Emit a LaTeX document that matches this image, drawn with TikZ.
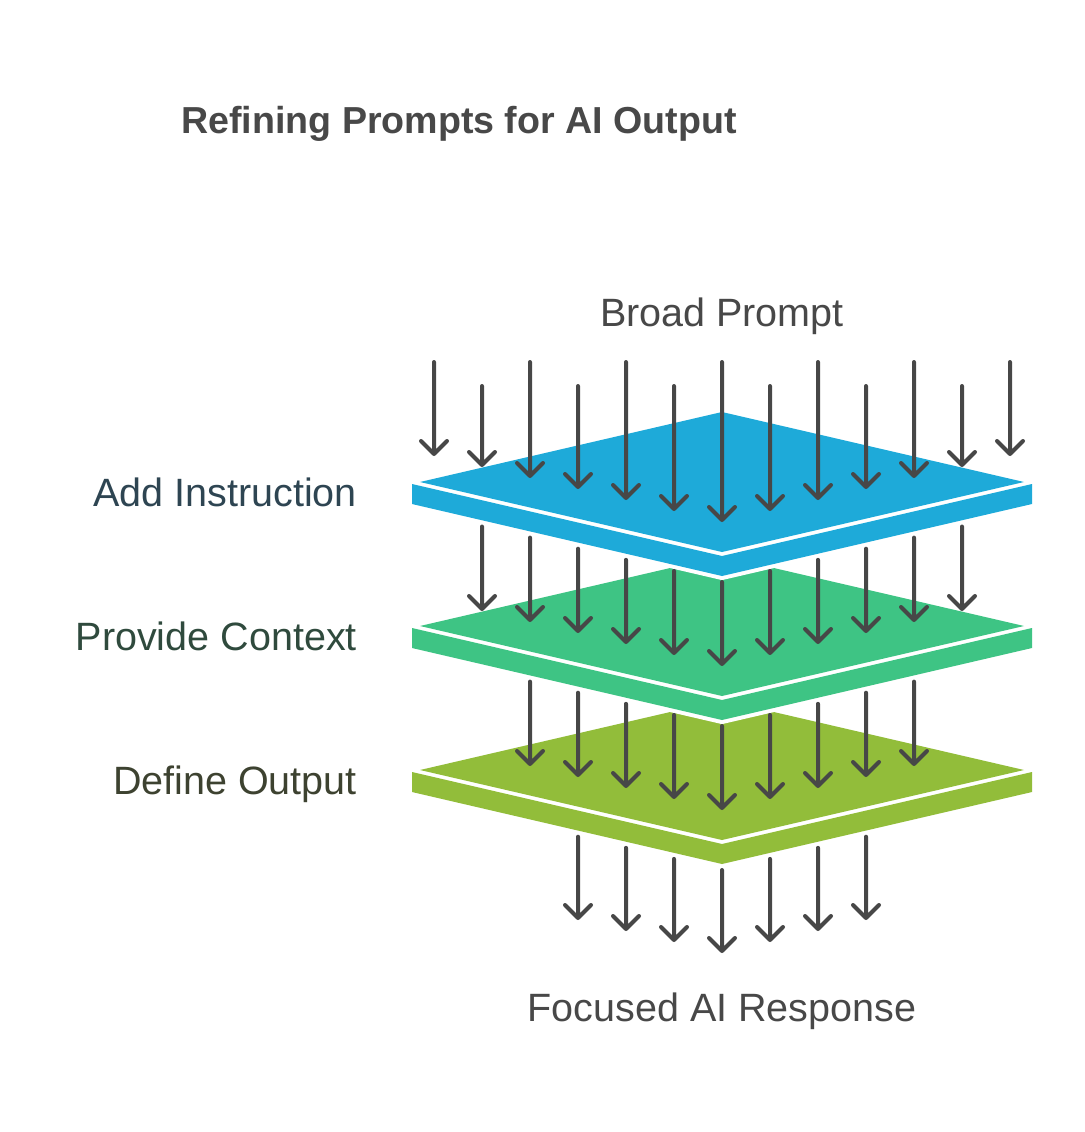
\documentclass[tikz,border=0pt]{standalone}
\usepackage{fontspec}
\setmainfont{Liberation Sans}
\definecolor{arrowgray}{HTML}{474747}
\definecolor{layerblue}{HTML}{1EAAD9}
\definecolor{layergreen}{HTML}{3EC484}
\definecolor{layerolive}{HTML}{92BD3A}
\definecolor{txtgray}{HTML}{484848}
\definecolor{txtblue}{HTML}{2E4552}
\definecolor{txtgreen}{HTML}{2F4A3D}
\definecolor{txtolive}{HTML}{3D4230}

% one layer: white halo, top face and front band, shifted down by #1
\newcommand\layerplate[2]{%
  \begin{scope}[shift={(0,#1)}]
    \filldraw[white,line width=8pt,line join=round]
      (722,412)--(420,482)--(412,484)--(412,504)--(722,576)--(1032,504)--(1032,484)--(1024,482)--cycle;
    \fill[#2] (420,482)--(722,412)--(1024,482)--(722,552)--cycle;
    \fill[#2] (412,484)--(722,556)--(1032,484)--(1032,504)--(722,576)--(412,504)--cycle;
  \end{scope}}

% a row of downward arrows between two layers
\newcommand\arrowrow[3]{%
  \foreach \k in {-#1,...,#1} {
    \pgfmathsetmacro\xx{722+48*\k}
    \pgfmathsetmacro\ys{#2-11.1*abs(\k)+2}
    \pgfmathsetmacro\yt{#3-11*abs(\k)-2}
    \draw[arrowline] (\xx,\ys) -- (\xx,\yt)
      (\xx-13,\yt-13) -- (\xx,\yt) -- (\xx+13,\yt-13);
  }}

\begin{document}
\begin{tikzpicture}[x=1pt,y=-1pt,
  arrowline/.style={draw=arrowgray,line width=4pt,line cap=round,line join=round},
  lbl/.style={font=\fontsize{39.5}{46}\selectfont,inner sep=0pt}]
\useasboundingbox (0,0) rectangle (1084,1132);

% title
\node[anchor=base west,inner sep=0pt,text=txtgray,
      font=\fontsize{37.6}{44}\selectfont\bfseries] (title) at (181,133)
  {Refining Prompts for AI Output};

% stacked layers, bottom first
\layerplate{288}{layerolive}
\layerplate{144}{layergreen}
\layerplate{0}{layerblue}

% incoming arrows onto the top layer
\foreach \k in {-6,...,6} {
  \pgfmathsetmacro\xx{722+48*\k}
  \pgfmathsetmacro\ys{ifthenelse(mod(abs(\k),2)==0,360,384)+2}
  \pgfmathsetmacro\yt{522-11*abs(\k)-2}
  \draw[arrowline] (\xx,\ys) -- (\xx,\yt)
    (\xx-13,\yt-13) -- (\xx,\yt) -- (\xx+13,\yt-13);
}
% arrows passing between the layers and out of the bottom
\arrowrow{5}{580}{666}
\arrowrow{4}{724}{810}
\arrowrow{3}{868}{953}

% labels
\node[lbl,anchor=base,text=txtgray] (broad) at (722,326) {Broad Prompt};
\node[lbl,anchor=base,text=txtgray] (focused) at (722,1021) {Focused AI Response};
\node[lbl,anchor=base east,text=txtblue] (l1) at (357,506) {Add Instruction};
\node[lbl,anchor=base east,text=txtgreen] (l2) at (357,650) {Provide Context};
\node[lbl,anchor=base east,text=txtolive] (l3) at (357,794) {Define Output};
\end{tikzpicture}
\end{document}
